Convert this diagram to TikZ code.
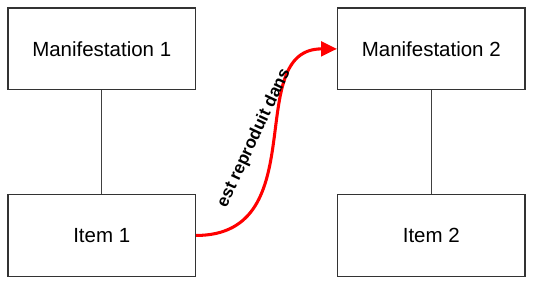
\documentclass[tikz,border=0pt]{standalone}
\usepackage{fontspec}
\setmainfont{Liberation Sans}
\usepackage{tikz}
\usetikzlibrary{positioning,arrows.meta,calc}

\begin{document}
\begin{tikzpicture}[
  node distance=78pt and 106pt,
  entity/.style={draw=black!80, line width=0.8pt, minimum width=141pt, minimum height=61.5pt, font=\fontsize{15.4}{18}\selectfont},
  link/.style={draw=black!75, line width=0.8pt},
  rel/.style={-{Triangle[length=12pt, width=11pt]}, red, line width=2.3pt},
  lbl/.style={text=black, font=\bfseries\fontsize{13}{15}\selectfont}
]
\node[entity] (man1) {Manifestation 1};
\node[entity, below=of man1] (item1) {Item 1};
\node[entity, right=of man1] (man2) {Manifestation 2};
\node[entity, below=of man2] (item2) {Item 2};
\useasboundingbox ($(man1.north west)+(-5.6pt,5.6pt)$) rectangle ($(item2.south east)+(5.6pt,-4.5pt)$);
\draw[link] (man1) -- (item1);
\draw[link] (man2) -- (item2);
\draw[rel] (item1.east) .. controls +(90pt,0) and +(-72pt,0) .. node[lbl, xshift=-16pt, yshift=3pt, rotate=65] {est reproduit dans} (man2.west);
\end{tikzpicture}
\end{document}
